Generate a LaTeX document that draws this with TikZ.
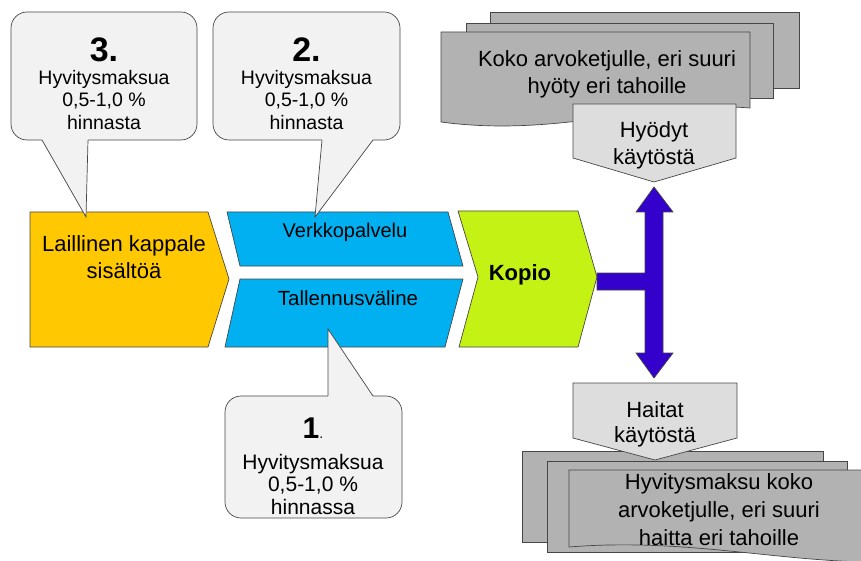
\documentclass[tikz,border=0pt]{standalone}
\usepackage{fontspec}
\setmainfont{Liberation Sans}
\usetikzlibrary{positioning}
\definecolor{kelta}{RGB}{255,200,0}
\definecolor{sini}{RGB}{0,176,240}
\definecolor{vihrea}{RGB}{196,242,20}
\definecolor{violetti}{RGB}{51,0,204}
\definecolor{harmaa}{RGB}{178,178,178}
\definecolor{vaalea}{RGB}{221,221,221}
\definecolor{kupla}{RGB}{242,242,242}
\definecolor{reuna}{RGB}{70,70,70}

\begin{document}
\begin{tikzpicture}[x=1pt, y=-1pt,
    reunus/.style={draw=reuna, line width=0.7pt, line join=miter},
    pala/.style={reunus, fill=#1},
    kuplalaatikko/.style={reunus, fill=kupla, rounded corners=16pt},
    teksti/.style={align=center, inner sep=0pt, font=\fontsize{22}{27}\selectfont},
    kuplateksti/.style={align=center, inner sep=0pt, font=\fontsize{19.5}{22.5}\selectfont},
    numero/.style={inner sep=0pt, font=\fontsize{34}{34}\selectfont\bfseries}]
    \useasboundingbox (0,0) rectangle (861,561);

    \draw[pala=harmaa] (490,12) rectangle (799,88);
    \draw[pala=harmaa] (466,23) rectangle (773,98);
    \draw[pala=harmaa] (441,32) -- (750,32) -- (750,108) .. controls (650,100) and (560,138) .. (441,122) -- cycle;
    \node[teksti] (koko) at (607,74) {Koko arvoketjulle, eri suuri\\hyöty eri tahoille};
    \draw[pala=vaalea] (573,104) -- (736,104) -- (736,158) -- (654,182) -- (573,158) -- cycle;
    \node[teksti] (hyodyt) at (654,145) {Hyödyt\\käytöstä};

    \draw[pala=harmaa] (522,451) rectangle (823,542);
    \draw[pala=harmaa] (547,461) rectangle (847,552);
    \draw[pala=harmaa] (569,470) -- (866,470) -- (866,562) .. controls (770,560) and (680,538) .. (569,547) -- cycle;
    \node[teksti, font=\fontsize{22}{28}\selectfont] (hyvitys) at (719,510) {Hyvitysmaksu koko\\arvoketjulle, eri suuri\\haitta eri tahoille};
    \draw[pala=vaalea] (573,383) -- (737,383) -- (737,438) -- (655,460) -- (573,438) -- cycle;
    \node[teksti, font=\fontsize{22}{25}\selectfont] (haitat) at (655,424) {Haitat\\käytöstä};

    \draw[pala=kelta] (30,212) -- (208,212) -- (229,279) -- (208,347) -- (30,347) -- cycle;
    \node[teksti] (laillinen) at (124,257) {Laillinen kappale\\sisältöä};
    \draw[pala=sini] (227,212) -- (448,212) -- (463,266) -- (240,266) -- cycle;
    \node[teksti, font=\fontsize{20}{24}\selectfont] (verkko) at (345,232) {Verkkopalvelu};
    \draw[pala=sini] (240,279) -- (463,279) -- (445,347) -- (225,347) -- cycle;
    \node[teksti, font=\fontsize{20.5}{24}\selectfont] (tallennus) at (348,298) {Tallennusväline};
    \draw[pala=vihrea] (458,211) -- (578,211) -- (597,277) -- (578,347) -- (459,347) -- (478,277) -- cycle;
    \node[teksti, font=\fontsize{22}{27}\selectfont\bfseries] (kopio) at (520,275) {Kopio};

    \draw[pala=violetti] (597,273) -- (645,273) -- (645,212) -- (636,212) -- (654,187) -- (673,212) -- (663,212)
        -- (663,353) -- (673,353) -- (654,378) -- (636,353) -- (645,353) -- (645,290) -- (597,290) -- cycle;

    \foreach \nro/\vasen/\oikea/\ka/\kb/\kx in {3/11/197/42/88/86, 2/213/400/322/373/315}{
        \draw[kuplalaatikko] (\vasen,12) rectangle (\oikea,140);
        \fill[kupla] (\ka,137) -- (\kb,137) -- (\kb,140) -- (\kx,217) -- (\ka,140) -- cycle;
        \draw[reunus] (\ka,140) -- (\kx,217) -- (\kb,140);
        \node[numero] (n\nro) at ({(\vasen+\oikea)/2},50) {\nro.};
        \node[kuplateksti] (t\nro) at ({(\vasen+\oikea)/2},100) {Hyvitysmaksua\\0,5-1,0 \%\\hinnasta};
    }
    \draw[kuplalaatikko] (225,396) rectangle (402,518);
    \fill[kupla] (328,399) -- (328,329) -- (373,396) -- (373,399) -- cycle;
    \draw[reunus] (328,396) -- (328,329) -- (373,396);
    \node[inner sep=0pt] (n1) at (313,428) {{\fontsize{30}{30}\selectfont\bfseries 1}{\fontsize{14}{14}\selectfont .}};
    \node[kuplateksti, font=\fontsize{21}{22.5}\selectfont] (t1) at (313,484) {Hyvitysmaksua\\0,5-1,0 \%\\hinnassa};
\end{tikzpicture}
\end{document}
